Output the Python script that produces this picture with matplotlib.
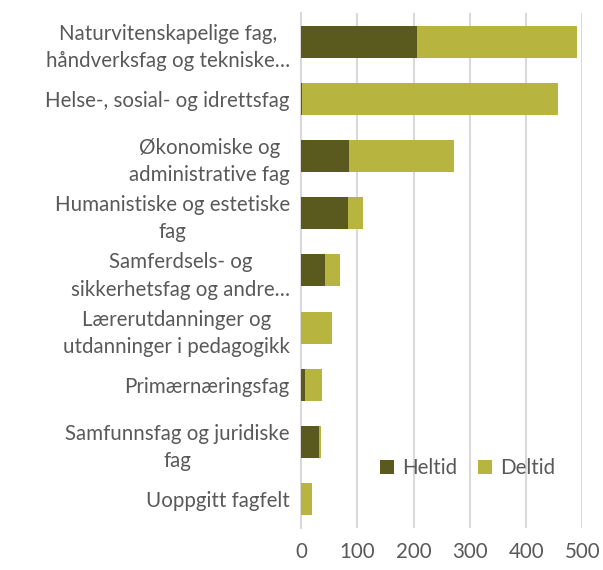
from matplotlib import pyplot as plt
import numpy as np

categories = [
    "Naturvitenskapelige fag,\nhåndverksfag og tekniske…",
    "Helse-, sosial- og idrettsfag",
    "Økonomiske og\nadministrative fag",
    "Humanistiske og estetiske\nfag",
    "Samferdsels- og\nsikkerhetsfag og andre…",
    "Lærerutdanninger og\nutdanninger i pedagogikk",
    "Primærnæringsfag",
    "Samfunnsfag og juridiske\nfag",
    "Uoppgitt fagfelt",
]
heltid = [206, 2, 85, 84, 43, 0, 7, 33, 0]
deltid = [285, 455, 187, 26, 27, 55, 30, 2, 20]

dark = "#5a591e"
light = "#b8b440"
grey = "#595959"

plt.rcParams["font.family"] = ["Lato", "DejaVu Sans"]

fig, ax = plt.subplots(figsize=(6.03, 5.70), dpi=100)
fig.subplots_adjust(left=0.499, right=0.966, top=0.977, bottom=0.074)

y = np.arange(len(categories))
ax.barh(y, heltid, height=0.56, color=dark, label="Heltid", zorder=3)
ax.barh(y, deltid, left=heltid, height=0.56, color=light, label="Deltid", zorder=3)

ax.set_ylim(len(categories) - 0.5, -0.5)
ax.set_xlim(0, 500)
ax.set_xticks([0, 100, 200, 300, 400, 500])
ax.set_yticks(y)
ax.set_yticklabels(categories, multialignment="center", linespacing=1.45)

ax.grid(axis="x", color="#d9d9d9", linewidth=1.5, zorder=0)
ax.tick_params(axis="both", length=0, labelsize=14.8, labelcolor=grey)
ax.tick_params(axis="x", pad=10)
ax.tick_params(axis="y", pad=8)
for s in ["top", "right", "bottom"]:
    ax.spines[s].set_visible(False)
ax.spines["left"].set_color("#d9d9d9")
ax.spines["left"].set_linewidth(1.5)

ax.legend(loc="lower right", bbox_to_anchor=(0.97, 0.06), ncol=2, frameon=False,
          fontsize=14.8, labelcolor=grey, handlelength=0.7, handleheight=0.7,
          columnspacing=1.0, handletextpad=0.4)

plt.savefig("out.png")
